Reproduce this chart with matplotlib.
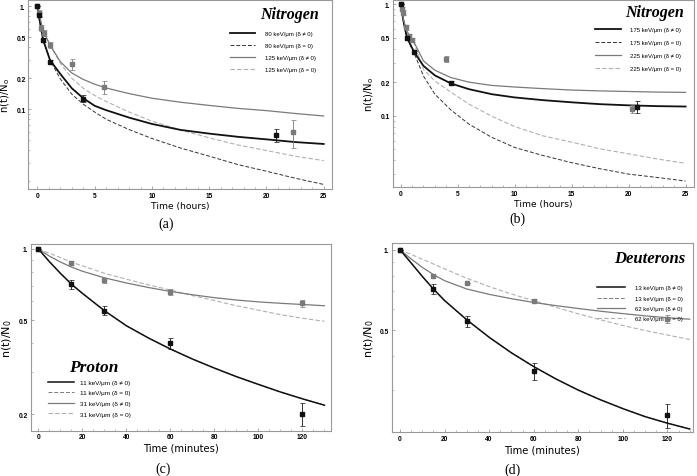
import numpy as np
import matplotlib.pyplot as plt
from matplotlib.ticker import FixedLocator, MultipleLocator, NullFormatter

# ---------------- panel (a): Nitrogen, 80 / 125 keV/um, hours
a_t = [0, 0.1, 0.5, 1.1, 2, 3, 4, 5, 6, 8, 10, 12.5, 15, 17.5, 20, 22.5, 25]
a_80_fit = [1, 0.83, 0.47, 0.30, 0.22, 0.16, 0.128, 0.108, 0.098, 0.083, 0.072, 0.063, 0.058, 0.054, 0.051, 0.048, 0.046]
a_80_d0 = [1, 0.83, 0.47, 0.30, 0.197, 0.14, 0.112, 0.094, 0.080, 0.0635, 0.052, 0.042, 0.035, 0.029, 0.025, 0.0214, 0.0186]
a_125_fit = [1, 0.88, 0.58, 0.42, 0.29, 0.225, 0.195, 0.175, 0.161, 0.142, 0.128, 0.117, 0.109, 0.102, 0.097, 0.091, 0.086]
a_125_d0 = [1, 0.88, 0.58, 0.42, 0.28, 0.2, 0.16, 0.136, 0.119, 0.094, 0.0765, 0.063, 0.0528, 0.045, 0.0397, 0.035, 0.0317]
a_80_pt_t = [0, 0.1, 0.5, 1.1, 4, 20.8]
a_80_pt = [1, 0.83, 0.47, 0.29, 0.127, 0.0557]
a_80_err = [0, 0.05, 0.02, 0.01, 0.01, 0.008]
a_125_pt_t = [0, 0.1, 0.35, 0.6, 1.1, 3, 5.8, 22.3]
a_125_pt = [1, 0.86, 0.62, 0.55, 0.42, 0.275, 0.164, 0.06]
a_125_err = [0, 0.06, 0.04, 0.04, 0.03, 0.033, 0.024, 0.018]

# ---------------- panel (b): Nitrogen, 175 / 225 keV/um, hours
b_t = [0, 0.25, 0.55, 1.2, 2, 3, 4.4, 6, 8, 10, 12.5, 15, 17.5, 20, 22.5, 25]
b_175_fit = [1, 0.7, 0.5, 0.37, 0.28, 0.23, 0.195, 0.173, 0.156, 0.146, 0.138, 0.132, 0.127, 0.124, 0.122, 0.121]
b_175_d0 = [1, 0.7, 0.5, 0.36, 0.227, 0.156, 0.113, 0.084, 0.064, 0.052, 0.044, 0.038, 0.0335, 0.030, 0.028, 0.026]
b_225_fit = [1, 0.72, 0.57, 0.45, 0.31, 0.256, 0.22, 0.2, 0.187, 0.181, 0.175, 0.17, 0.167, 0.165, 0.163, 0.162]
b_225_d0 = [1, 0.72, 0.57, 0.44, 0.26, 0.205, 0.163, 0.127, 0.099, 0.080, 0.066, 0.058, 0.0505, 0.0456, 0.041, 0.0375]
b_175_pt_t = [0, 0.55, 1.2, 4.4, 20.7]
b_175_pt = [1, 0.5, 0.374, 0.195, 0.121]
b_175_err = [0, 0.02, 0.01, 0.008, 0.015]
b_225_pt_t = [0, 0.1, 0.2, 0.5, 0.75, 1.0, 4.0, 20.3]
b_225_pt = [1, 0.9, 0.84, 0.62, 0.52, 0.48, 0.324, 0.115]
b_225_err = [0, 0.04, 0.04, 0.03, 0.02, 0.02, 0.022, 0.01]

# ---------------- panel (c): Proton, minutes
c_t = [0, 5, 10, 15, 20, 30, 40, 50, 60, 70, 80, 90, 100, 110, 120, 130]
c_11_fit = [1, 0.884, 0.789, 0.71, 0.649, 0.548, 0.473, 0.42, 0.377, 0.342, 0.313, 0.288, 0.267, 0.248, 0.232, 0.218]
c_11_d0 = [1, 0.884, 0.789, 0.71, 0.649, 0.548, 0.473, 0.42, 0.377, 0.342, 0.313, 0.288, 0.267, 0.248, 0.232, 0.218]
c_31_fit = [1, 0.933, 0.881, 0.839, 0.805, 0.755, 0.718, 0.687, 0.661, 0.640, 0.622, 0.608, 0.597, 0.589, 0.582, 0.575]
c_31_d0 = [1, 0.959, 0.92, 0.879, 0.849, 0.789, 0.745, 0.705, 0.67, 0.635, 0.605, 0.575, 0.551, 0.527, 0.509, 0.494]
c_pt_t = [0, 15, 30, 60, 120]
c_11_pt = [1, 0.71, 0.548, 0.398, 0.2]
c_11_err = [0, 0.03, 0.025, 0.022, 0.022]
c_31_pt = [1, 0.872, 0.737, 0.659, 0.588]
c_31_err = [0, 0.02, 0.02, 0.02, 0.02]

# ---------------- panel (d): Deuterons, minutes
d_t = [0, 5, 10, 15, 20, 30, 40, 50, 60, 70, 80, 90, 100, 110, 120, 130]
d_13_fit = [1, 0.892, 0.795, 0.713, 0.646, 0.547, 0.471, 0.412, 0.366, 0.329, 0.299, 0.275, 0.255, 0.238, 0.225, 0.214]
d_13_d0 = [1, 0.892, 0.795, 0.713, 0.646, 0.547, 0.471, 0.412, 0.366, 0.329, 0.299, 0.275, 0.255, 0.238, 0.225, 0.214]
d_62_fit = [1, 0.923, 0.859, 0.807, 0.766, 0.713, 0.681, 0.656, 0.635, 0.618, 0.603, 0.589, 0.577, 0.566, 0.557, 0.55]
d_62_d0 = [1, 0.96, 0.921, 0.884, 0.848, 0.782, 0.728, 0.683, 0.645, 0.609, 0.576, 0.547, 0.521, 0.499, 0.48, 0.462]
d_pt_t = [0, 15, 30, 60, 120]
d_13_pt = [1, 0.713, 0.54, 0.351, 0.241]
d_13_err = [0, 0.03, 0.025, 0.025, 0.025]
d_62_pt = [1, 0.8, 0.751, 0.642, 0.551]
d_62_err = [0, 0.0, 0.0, 0.01, 0.02]

BLACK = '#111111'
GRAY = '#7a7a7a'
LIGHT = '#b0b0b0'
TICKFONT = dict(family='Liberation Sans', size=4.8, weight='bold')
SERIF = 'Liberation Serif'


def style_axes(ax, xlim, ylim, xmajor, xminor, yticks, ylabels, xlabel, lab_size):
    ax.set_yscale('log')
    ax.set_xlim(*xlim)
    ax.set_ylim(*ylim)
    ax.xaxis.set_major_locator(MultipleLocator(xmajor))
    ax.xaxis.set_minor_locator(MultipleLocator(xminor))
    ax.yaxis.set_major_locator(FixedLocator(yticks))
    ax.set_yticklabels(ylabels)
    ax.yaxis.set_minor_formatter(NullFormatter())
    for lab in ax.get_xticklabels() + ax.get_yticklabels():
        lab.set_fontproperties(TICKFONT)
    ax.tick_params(which='both', direction='in', color='#888888', pad=2)
    ax.tick_params(which='major', length=2.5, width=0.5)
    ax.tick_params(which='minor', length=1.3, width=0.4)
    for s in ax.spines.values():
        s.set_color('#999999')
        s.set_linewidth(0.8)
    ax.set_xlabel(xlabel, fontsize=lab_size, family='DejaVu Sans', labelpad=1.5)


def draw_points(ax, t, v, err, color):
    ax.errorbar(t, v, yerr=err, fmt='s', color=color, ms=2.6, elinewidth=0.6,
                capsize=1.8, capthick=0.5, ecolor=color, zorder=5)


fig = plt.figure(figsize=(6.97, 4.77), dpi=100)

# (a)
ax = fig.add_axes([0.0406, 0.6017, 0.4353, 0.396])
ax.plot(a_t, a_80_d0, '--', color='#333333', lw=0.7, dashes=(4, 2), label='80 keV/\u03bcm (\u03b4 = 0)')
ax.plot(a_t, a_125_d0, '--', color=LIGHT, lw=0.8, dashes=(4, 2), label='125 keV/\u03bcm (\u03b4 = 0)')
ax.plot(a_t, a_80_fit, '-', color=BLACK, lw=1.3, label='80 keV/\u03bcm (\u03b4 \u2260 0)')
ax.plot(a_t, a_125_fit, '-', color=GRAY, lw=0.9, label='125 keV/\u03bcm (\u03b4 \u2260 0)')
draw_points(ax, a_125_pt_t, a_125_pt, a_125_err, GRAY)
draw_points(ax, a_80_pt_t, a_80_pt, a_80_err, BLACK)
style_axes(ax, (-0.8, 25.7), (0.0168, 1.15), 5, 1, [0.1, 0.2, 0.5, 1], ['0.1', '0.2', '0.5', '1.'],
           'Time (hours)', 6.6)
ax.set_ylabel('n(t)/N$_\\mathregular{o}$', fontsize=7.2, labelpad=3)
h, l = ax.get_legend_handles_labels()
order = [2, 0, 3, 1]
ax.legend([h[i] for i in order], [l[i] for i in order], loc='upper right', bbox_to_anchor=(0.965, 0.865),
          frameon=False, prop={'family': 'Liberation Sans', 'size': 4.3}, handlelength=4.2,
          handletextpad=1.6, labelspacing=1.15)
ax.text(0.86, 0.925, 'Nitrogen', transform=ax.transAxes, ha='center', va='center',
        family=SERIF, weight='bold', style='italic', fontsize=11.5)
fig.text(0.238, 0.530, '(a)', family=SERIF, fontsize=10, ha='center', va='center')

# (b)
ax = fig.add_axes([0.5634, 0.6059, 0.4325, 0.392])
ax.plot(b_t, b_175_d0, '--', color='#333333', lw=0.7, dashes=(4, 2), label='175 keV/\u03bcm (\u03b4 = 0)')
ax.plot(b_t, b_225_d0, '--', color=LIGHT, lw=0.8, dashes=(4, 2), label='225 keV/\u03bcm (\u03b4 = 0)')
ax.plot(b_t, b_175_fit, '-', color=BLACK, lw=1.3, label='175 keV/\u03bcm (\u03b4 \u2260 0)')
ax.plot(b_t, b_225_fit, '-', color=GRAY, lw=0.9, label='225 keV/\u03bcm (\u03b4 \u2260 0)')
draw_points(ax, b_225_pt_t, b_225_pt, b_225_err, GRAY)
draw_points(ax, b_175_pt_t, b_175_pt, b_175_err, BLACK)
style_axes(ax, (-0.7, 25.75), (0.023, 1.09), 5, 1, [0.1, 0.2, 0.5, 1], ['0.1', '0.2', '0.5', '1.'],
           'Time (hours)', 6.6)
ax.set_ylabel('n(t)/N$_\\mathregular{o}$', fontsize=7.2, labelpad=3)
h, l = ax.get_legend_handles_labels()
ax.legend([h[i] for i in order], [l[i] for i in order], loc='upper right', bbox_to_anchor=(0.975, 0.885),
          frameon=False, prop={'family': 'Liberation Sans', 'size': 4.3}, handlelength=4.2,
          handletextpad=1.6, labelspacing=1.3)
ax.text(0.867, 0.935, 'Nitrogen', transform=ax.transAxes, ha='center', va='center',
        family=SERIF, weight='bold', style='italic', fontsize=11.5)
fig.text(0.742, 0.541, '(b)', family=SERIF, fontsize=10, ha='center', va='center')

# (c)
ax = fig.add_axes([0.044, 0.095, 0.4309, 0.3914])
ax.plot(c_t, c_31_d0, '--', color=LIGHT, lw=0.8, dashes=(4, 2), label='31 keV/\u03bcm (\u03b4 = 0)')
ax.plot(c_t, c_11_d0, '--', color=GRAY, lw=0.7, dashes=(4, 2), label='11 keV/\u03bcm (\u03b4 = 0)')
ax.plot(c_t, c_31_fit, '-', color=GRAY, lw=0.9, label='31 keV/\u03bcm (\u03b4 \u2260 0)')
ax.plot(c_t, c_11_fit, '-', color=BLACK, lw=1.1, label='11 keV/\u03bcm (\u03b4 \u2260 0)')
draw_points(ax, c_pt_t, c_31_pt, c_31_err, GRAY)
draw_points(ax, c_pt_t, c_11_pt, c_11_err, BLACK)
style_axes(ax, (-3.5, 133), (0.17, 1.05), 20, 5, [0.2, 0.5, 1], ['0.2', '0.5', '1.'],
           'Time (minutes)', 7.2)
ax.set_ylabel('n(t)/N$_\\mathregular{0}$', fontsize=8, labelpad=3)
h, l = ax.get_legend_handles_labels()
order2 = [3, 1, 2, 0]
ax.legend([h[i] for i in order2], [l[i] for i in order2], loc='lower left', bbox_to_anchor=(0.04, 0.045),
          frameon=False, prop={'family': 'Liberation Sans', 'size': 4.6}, handlelength=4.0,
          handletextpad=0.9, labelspacing=0.8)
ax.text(0.211, 0.341, 'Proton', transform=ax.transAxes, ha='center', va='center',
        family=SERIF, weight='bold', style='italic', fontsize=12.5)
fig.text(0.234, 0.017, '(c)', family=SERIF, fontsize=10, ha='center', va='center')

# (d)
ax = fig.add_axes([0.562, 0.0916, 0.4323, 0.3969])
ax.plot(d_t, d_62_d0, '--', color=LIGHT, lw=0.8, dashes=(4, 2), label='62 keV/\u03bcm (\u03b4 = 0)')
ax.plot(d_t, d_13_d0, '--', color=GRAY, lw=0.7, dashes=(4, 2), label='13 keV/\u03bcm (\u03b4 = 0)')
ax.plot(d_t, d_62_fit, '-', color=GRAY, lw=0.9, label='62 keV/\u03bcm (\u03b4 \u2260 0)')
ax.plot(d_t, d_13_fit, '-', color=BLACK, lw=1.1, label='13 keV/\u03bcm (\u03b4 \u2260 0)')
draw_points(ax, d_pt_t, d_62_pt, d_62_err, GRAY)
draw_points(ax, d_pt_t, d_13_pt, d_13_err, BLACK)
style_axes(ax, (-3.7, 131.5), (0.208, 1.059), 20, 5, [0.5, 1], ['0.5', '1.'],
           'Time (minutes)', 7.2)
ax.set_ylabel('n(t)/N$_\\mathregular{0}$', fontsize=8, labelpad=3)
h, l = ax.get_legend_handles_labels()
ax.legend([h[i] for i in order2], [l[i] for i in order2], loc='upper right', bbox_to_anchor=(0.985, 0.805),
          frameon=False, prop={'family': 'Liberation Sans', 'size': 4.3}, handlelength=4.6,
          handletextpad=1.8, labelspacing=0.85)
ax.text(0.857, 0.921, 'Deuterons', transform=ax.transAxes, ha='center', va='center',
        family=SERIF, weight='bold', style='italic', fontsize=12)
fig.text(0.735, 0.015, '(d)', family=SERIF, fontsize=10, ha='center', va='center')

fig.savefig('out.png', dpi=100)
